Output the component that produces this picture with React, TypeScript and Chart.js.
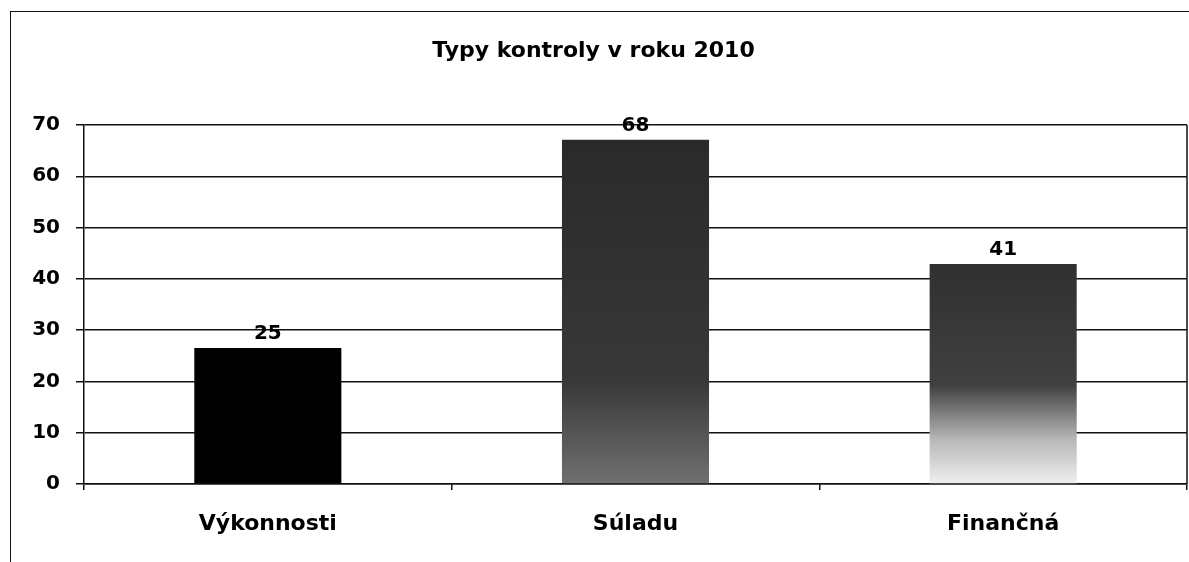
import React, { useEffect, useRef } from "react";
import { Chart, registerables } from "chart.js";

Chart.register(...registerables);

const titleText = "Typy kontroly v roku 2010";
const categories = ["Výkonnosti", "Súladu", "Finančná"];
// bar heights as drawn in the picture
const barValues = [26.5, 67.1, 42.9];
// value labels printed above the bars
const valueLabels = ["25", "68", "41"];
const yTicks = [0, 10, 20, 30, 40, 50, 60, 70];
// fill gradients (top -> bottom) for each bar: [color, stop]
const barFills: [string, number][][] = [
  [["#000000", 0], ["#000000", 1]],
  [["#2a2a2a", 0], ["#383838", 0.7], ["#707070", 1]],
  [["#303030", 0], ["#404040", 0.55], ["#b8b8b8", 0.8], ["#f0f0f0", 1]],
];

const FONT = "'DejaVu Sans', 'Liberation Sans', Arial, sans-serif";

export default function App() {
  const ref = useRef<HTMLCanvasElement | null>(null);

  useEffect(() => {
    document.body.style.margin = "0";
    const canvas = ref.current;
    if (!canvas) return;

    const valueLabelPlugin = {
      id: "valueLabels",
      afterDatasetsDraw(chart: any) {
        const ctx = chart.ctx;
        const meta = chart.getDatasetMeta(0);
        ctx.save();
        ctx.font = `bold 20px ${FONT}`;
        ctx.fillStyle = "#000";
        ctx.textAlign = "center";
        ctx.textBaseline = "alphabetic";
        meta.data.forEach((el: any, i: number) => {
          ctx.fillText(valueLabels[i], el.x, el.y - 9);
        });
        ctx.restore();
      },
    };

    const rightEdgePlugin = {
      id: "rightEdge",
      afterDraw(chart: any) {
        const { ctx, chartArea } = chart;
        ctx.save();
        ctx.strokeStyle = "#111";
        ctx.lineWidth = 1.5;
        ctx.beginPath();
        ctx.moveTo(chartArea.right, chartArea.top);
        ctx.lineTo(chartArea.right, chartArea.bottom);
        ctx.stroke();
        ctx.restore();
      },
    };

    const chart = new Chart(canvas, {
      type: "bar",
      data: {
        labels: categories,
        datasets: [
          {
            data: barValues,
            backgroundColor: (c: any) => {
              const chart = c.chart;
              const area = chart.chartArea;
              const stops = barFills[c.dataIndex] || barFills[0];
              if (!area || c.parsed == null) return stops[0][0];
              const yScale = chart.scales.y;
              const top = yScale.getPixelForValue(c.parsed.y);
              const bottom = yScale.getPixelForValue(0);
              const g = chart.ctx.createLinearGradient(0, top, 0, bottom);
              stops.forEach(([col, s]) => g.addColorStop(s, col));
              return g;
            },
            borderWidth: 0,
            barPercentage: 0.4,
            categoryPercentage: 1,
          },
        ],
      },
      options: {
        animation: false,
        responsive: false,
        maintainAspectRatio: false,
        layout: { padding: { left: 0, right: 2, top: 0, bottom: 0 } },
        plugins: {
          legend: { display: false },
          tooltip: { enabled: false },
          title: {
            display: true,
            text: titleText,
            color: "#000",
            font: { family: FONT, size: 22, weight: "bold" },
            padding: { top: 38, bottom: 60.6 },
          },
        },
        scales: {
          x: {
            offset: true,
            grid: {
              drawOnChartArea: false,
              drawTicks: true,
              tickLength: 6,
              color: "#111",
              lineWidth: 1.5,
              offset: true,
            },
            border: { display: true, color: "#111", width: 1.5 },
            ticks: {
              color: "#000",
              padding: 21,
              font: { family: FONT, size: 22, weight: "bold" },
            },
            afterFit: (s: any) => {
              s.height = 78;
            },
          },
          y: {
            min: 0,
            max: 70,
            afterBuildTicks: (s: any) => {
              s.ticks = yTicks.map((v) => ({ value: v }));
            },
            grid: {
              color: "#111",
              lineWidth: 1.5,
              tickLength: 8,
              drawTicks: true,
            },
            border: { display: true, color: "#111", width: 1.5 },
            ticks: {
              color: "#000",
              padding: 16,
              font: { family: FONT, size: 20, weight: "bold" },
            },
            afterFit: (s: any) => {
              s.width = 84;
            },
          },
        },
      },
      plugins: [valueLabelPlugin, rightEdgePlugin],
    });

    return () => chart.destroy();
  }, []);

  return (
    <div
      style={{
        position: "fixed",
        left: 0,
        top: 0,
        width: 1189,
        height: 562,
        background: "#fff",
        overflow: "hidden",
      }}
    >
      <div
        style={{
          position: "absolute",
          left: 10,
          top: 11,
          width: 1200,
          height: 600,
          borderLeft: "1.5px solid #111",
          borderTop: "1.5px solid #111",
        }}
      />
      <canvas
        ref={ref}
        width={1189}
        height={562}
        style={{ position: "absolute", left: 0, top: 0, width: 1189, height: 562 }}
      />
    </div>
  );
}
